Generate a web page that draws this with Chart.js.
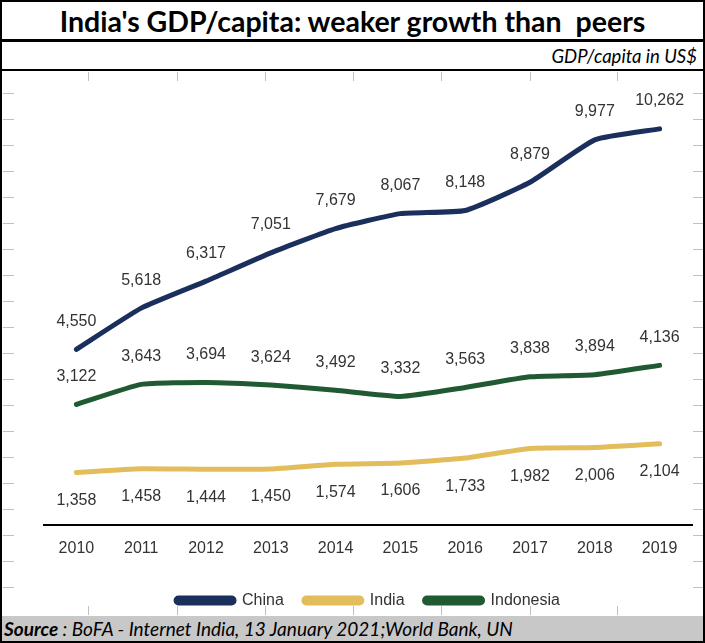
<!DOCTYPE html>
<html>
<head>
<meta charset="utf-8">
<script src="https://cdn.jsdelivr.net/npm/chart.js@4.4.1/dist/chart.umd.min.js"></script>
<style>
  html, body { margin:0; padding:0; background:#fff; }
  #frame { position:relative; width:705px; height:643px; overflow:hidden; background:#fff; }
  #border { position:absolute; left:0; top:0; width:701px; height:639px; border:2px solid #000; z-index:5; pointer-events:none; }
  #title { position:absolute; left:0; top:0; width:705px; height:40px; text-align:center; font-family:Lato, "Open Sans", sans-serif; font-weight:bold; font-size:28.5px; line-height:42px; color:#000; white-space:pre; }
  #line1 { position:absolute; left:0; top:39px; width:705px; height:3px; background:#000; }
  #subtitle { position:absolute; right:8px; top:43px; font-family:Lato, "Open Sans", sans-serif; font-style:italic; font-size:18.5px; line-height:26px; color:#000; }
  #line2 { position:absolute; left:0; top:69px; width:705px; height:2px; background:#000; }
  #chartbox { position:absolute; left:0; top:72px; width:705px; height:568px; }
  #source { position:absolute; left:0; top:616px; width:705px; height:27px; background:#c8c8c8; font-family:Lato, "Open Sans", sans-serif; font-style:italic; font-size:19px; line-height:25px; color:#000; padding-left:4px; box-sizing:border-box; z-index:4; white-space:pre; }
  .tk { position:absolute; background:#c0c0c0; }
</style>
</head>
<body>
<div id="frame">
  <div id="title">India's GDP/capita: weaker growth than  peers</div>
  <div id="line1"></div>
  <div id="subtitle">GDP/capita in US$</div>
  <div id="line2"></div>
  <div id="chartbox"><canvas id="c"></canvas></div>
  <div id="source"><b>Source</b> : BoFA - Internet India, 13 January 2021;World Bank, UN</div>
  <div id="border"></div>
</div>
<script>
const years = ['2010','2011','2012','2013','2014','2015','2016','2017','2018','2019'];
const china = [4550, 5618, 6317, 7051, 7679, 8067, 8148, 8879, 9977, 10262];
const india = [1358, 1458, 1444, 1450, 1574, 1606, 1733, 1982, 2006, 2104];
const indonesia = [3122, 3643, 3694, 3624, 3492, 3332, 3563, 3838, 3894, 4136];
const seriesNames = ['China', 'India', 'Indonesia'];
const seriesColors = ['#1b2f5c', '#e3bd5c', '#205a32'];
const labelSide = ['above', 'below', 'above'];

// Excel-like cell border ticks (decoration)
(function(){
  const f = document.getElementById('frame');
  function tk(x,y,w,h){ const d=document.createElement('div'); d.className='tk'; d.style.left=x+'px'; d.style.top=y+'px'; d.style.width=w+'px'; d.style.height=h+'px'; f.appendChild(d); }
  for (let y=93; y<=600; y+=26) { tk(3,y,11,1); tk(693,y,10,1); }
  [88,177,265,353,441,530,617].forEach(x => { tk(x,72,1,9); tk(x,606,1,9); });
})();

const valueLabels = {
  id: 'valueLabels',
  afterDatasetsDraw(chart) {
    const ctx = chart.ctx;
    ctx.save();
    ctx.font = '16px "Liberation Sans", Arial, sans-serif';
    ctx.fillStyle = '#333333';
    ctx.textAlign = 'center';
    ctx.textBaseline = 'middle';
    chart.data.datasets.forEach((ds, i) => {
      const meta = chart.getDatasetMeta(i);
      meta.data.forEach((pt, j) => {
        const off = labelSide[i] === 'above' ? -28 : 28;
        ctx.fillText(ds.data[j].toLocaleString('en-US'), pt.x, pt.y + off);
      });
    });
    ctx.restore();
  }
};

new Chart(document.getElementById('c'), {
  type: 'line',
  data: {
    labels: years,
    datasets: [
      { label: seriesNames[0], data: china, borderColor: seriesColors[0], backgroundColor: seriesColors[0] },
      { label: seriesNames[1], data: india, borderColor: seriesColors[1], backgroundColor: seriesColors[1] },
      { label: seriesNames[2], data: indonesia, borderColor: seriesColors[2], backgroundColor: seriesColors[2] }
    ]
  },
  options: {
    responsive: true,
    maintainAspectRatio: false,
    animation: false,
    devicePixelRatio: 1,
    layout: { padding: { left: 44, right: 13, top: 28.4, bottom: 21.5 } },
    elements: {
      line: { borderWidth: 5, tension: 0.15, borderCapStyle: 'round', borderJoinStyle: 'round', fill: false },
      point: { radius: 0, hoverRadius: 0 }
    },
    scales: {
      x: {
        offset: true,
        grid: { display: false, drawTicks: false },
        border: { display: true, color: '#000', width: 2 },
        ticks: { color: '#333333', font: { family: '"Liberation Sans", Arial, sans-serif', size: 16 }, padding: 14, maxRotation: 0 },
        afterFit(s) { s.height = 47.5; }
      },
      y: {
        display: false,
        min: 0,
        max: 11000
      }
    },
    plugins: {
      legend: {
        position: 'bottom',
        labels: {
          boxWidth: 58,
          boxHeight: 5,
          padding: 20,
          useBorderRadius: true,
          borderRadius: 2.5,
          color: '#333333',
          font: { family: '"Liberation Sans", Arial, sans-serif', size: 16 }
        }
      },
      tooltip: { enabled: false }
    }
  },
  plugins: [valueLabels]
});
</script>
</body>
</html>
